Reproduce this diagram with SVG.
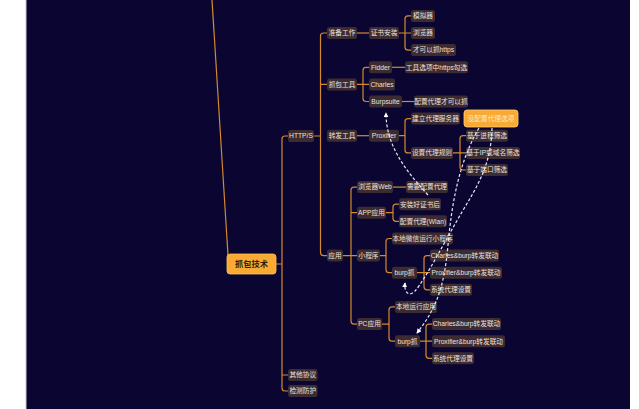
<svg xmlns="http://www.w3.org/2000/svg" width="639" height="409" viewBox="0 0 639 409">
<style>
.n rect{fill:#3c2b31;}
.n text{fill:#ece2de;font-family:"Liberation Sans","Noto Sans CJK SC",sans-serif;font-size:6.7px;text-anchor:middle;}
.c path{fill:none;stroke:#d48a2c;stroke-width:1.2;}
.d path{fill:none;stroke:#e6e6f2;stroke-width:1.2;stroke-dasharray:3 2;}
</style>
<defs>
<marker id="ah" viewBox="0 0 6 6" refX="5" refY="3" markerWidth="5" markerHeight="5" orient="auto" markerUnits="userSpaceOnUse">
<path d="M0,0 L6,3 L0,6 Z" fill="#ffffff"/>
</marker>
</defs>
<rect x="0" y="0" width="639" height="409" fill="#ffffff"/>
<rect x="26" y="0" width="604" height="409" fill="#0a0631"/>
<line x1="26" y1="0" x2="26" y2="409" stroke="#c9c9d6" stroke-width="1"/>

<g id="connectors" class="c">
<path d="M212,0 C220,130 226,220 228,255"/>
<path d="M276,264 H282 M288,136 H285 Q282,136 282,139 V388 Q282,391 285,391 H288 M282,375 H288"/>
<path d="M314,136 H320.5 M327,33 H323.5 Q320.5,33 320.5,36 V252.6 Q320.5,255.6 323.5,255.6 H327 M320.5,84.4 H327"/>
<path d="M357,33 H369"/>
<path d="M399,33 H411 M411,15.9 H408 Q405,15.9 405,18.9 V47.1 Q405,50.1 408,50.1 H411"/>
<path d="M357,84.4 H369 M369,67.3 H366 Q363,67.3 363,70.3 V98.5 Q363,101.5 366,101.5 H369"/>
<path d="M392,67.3 H405"/>
<path d="M402,101.5 H414"/>
<path d="M357,135.7 H369"/>
<path d="M399,135.7 H405 M411,118.6 H408 Q405,118.6 405,121.6 V149.9 Q405,152.9 408,152.9 H411"/>
<path d="M453,152.9 H466 M466,135.7 H463 Q460,135.7 460,138.7 V167 Q460,170 463,170 H466"/>
<path d="M343,255.6 H357 M357,187.1 H354 Q351,187.1 351,190.1 V321.1 Q351,324.1 354,324.1 H357 M351,212.7 H357"/>
<path d="M393,187.1 H406"/>
<path d="M386,212.7 H393 M399,204.2 H396 Q393,204.2 393,207.2 V218.3 Q393,221.3 396,221.3 H399"/>
<path d="M380,255.6 H386 M392,238.5 H389 Q386,238.5 386,241.5 V269.7 Q386,272.7 389,272.7 H392"/>
<path d="M417,272.7 H430 M430,255.6 H427 Q424,255.6 424,258.6 V286.8 Q424,289.8 427,289.8 H430"/>
<path d="M382,324.1 H389 M395,306.9 H392 Q389,306.9 389,309.9 V338.2 Q389,341.2 392,341.2 H395"/>
<path d="M420,341.2 H432 M432,324.1 H429 Q426,324.1 426,327.1 V355.3 Q426,358.3 429,358.3 H432"/>
</g>

<g id="root"><rect x="227" y="254" width="49" height="20" rx="3" fill="#f9aa33" stroke="#ffc25a" stroke-width="0.8"/><text x="251.5" y="267" font-family="'Liberation Sans','Noto Sans CJK SC',sans-serif" font-size="8.2" font-weight="bold" fill="#2b1d0e" text-anchor="middle">抓包技术</text></g>

<g id="n-https" class="n"><rect x="288" y="130" width="26" height="12" rx="2.5"/><text x="301" y="138.3">HTTP/S</text></g>
<g id="n-other" class="n"><rect x="288" y="369" width="29.5" height="12" rx="2.5"/><text x="302.75" y="377.3">其他协议</text></g>
<g id="n-detect" class="n"><rect x="288" y="385" width="29.5" height="12" rx="2.5"/><text x="302.75" y="393.3">检测防护</text></g>

<g id="n-prep" class="n"><rect x="327" y="27" width="30" height="12" rx="2.5"/><text x="342" y="35.3">准备工作</text></g>
<g id="n-cert" class="n"><rect x="369" y="27" width="30" height="12" rx="2.5"/><text x="384" y="35.3">证书安装</text></g>
<g id="n-sim" class="n"><rect x="411" y="9.9" width="24" height="12" rx="2.5"/><text x="423" y="18.2">模拟器</text></g>
<g id="n-browser" class="n"><rect x="411" y="27" width="24" height="12" rx="2.5"/><text x="423" y="35.3">浏览器</text></g>
<g id="n-canhttps" class="n"><rect x="411" y="44.1" width="45" height="12" rx="2.5"/><text x="433.5" y="52.4">才可以抓https</text></g>

<g id="n-tools" class="n"><rect x="327" y="78.4" width="30" height="12" rx="2.5"/><text x="342" y="86.7">抓包工具</text></g>
<g id="n-fidder" class="n"><rect x="369" y="61.3" width="23" height="12" rx="2.5"/><text x="380.5" y="69.6">Fidder</text></g>
<g id="n-charles" class="n"><rect x="369" y="78.4" width="26" height="12" rx="2.5"/><text x="382" y="86.7">Charles</text></g>
<g id="n-burpsuite" class="n"><rect x="369" y="95.5" width="33" height="12" rx="2.5"/><text x="385.5" y="103.8">Burpsuite</text></g>
<g id="n-fidder-opt" class="n"><rect x="405" y="61.3" width="63" height="12" rx="2.5"/><text x="436.5" y="69.6">工具选项中https勾选</text></g>
<g id="n-burp-opt" class="n"><rect x="414" y="95.5" width="54" height="12" rx="2.5"/><text x="441" y="103.8">配置代理才可以抓</text></g>

<g id="n-fwd" class="n"><rect x="327" y="129.7" width="30" height="12" rx="2.5"/><text x="342" y="138">转发工具</text></g>
<g id="n-proxifier" class="n"><rect x="369" y="129.7" width="30" height="12" rx="2.5"/><text x="384" y="138">Proxifier</text></g>
<g id="n-proxyserver" class="n"><rect x="411" y="112.6" width="49" height="12" rx="2.5"/><text x="435.5" y="120.9">建立代理服务器</text></g>
<g id="n-rules" class="n"><rect x="411" y="146.9" width="42" height="12" rx="2.5"/><text x="432" y="155.2">设置代理规则</text></g>
<g id="n-noproxy"><rect x="464" y="110" width="54" height="17" rx="3" fill="#f9aa33" stroke="#ffcf78" stroke-width="0.8"/><text x="491" y="121" font-family="'Liberation Sans','Noto Sans CJK SC',sans-serif" font-size="6.7" fill="#fde8c8" text-anchor="middle">没配置代理选项</text></g>
<g id="n-byproc" class="n"><rect x="466" y="129.7" width="42" height="12" rx="2.5"/><text x="487" y="138">基于进程筛选</text></g>
<g id="n-byip" class="n"><rect x="466" y="146.9" width="54" height="12" rx="2.5"/><text x="493" y="155.2">基于IP或域名筛选</text></g>
<g id="n-byport" class="n"><rect x="466" y="164" width="42" height="12" rx="2.5"/><text x="487" y="172.3">基于端口筛选</text></g>

<g id="n-app" class="n"><rect x="327" y="249.6" width="16" height="12" rx="2.5"/><text x="335" y="257.9">应用</text></g>
<g id="n-web" class="n"><rect x="357" y="181.1" width="36" height="12" rx="2.5"/><text x="375" y="189.4">浏览器Web</text></g>
<g id="n-needproxy" class="n"><rect x="406" y="181.1" width="42" height="12" rx="2.5"/><text x="427" y="189.4">需要配置代理</text></g>
<g id="n-appapp" class="n"><rect x="357" y="206.7" width="29" height="12" rx="2.5"/><text x="371.5" y="215">APP应用</text></g>
<g id="n-installcert" class="n"><rect x="399" y="198.2" width="42" height="12" rx="2.5"/><text x="420" y="206.5">安装好证书后</text></g>
<g id="n-wlan" class="n"><rect x="399" y="215.3" width="48" height="12" rx="2.5"/><text x="423" y="223.6">配置代理(Wlan)</text></g>
<g id="n-mini" class="n"><rect x="357" y="249.6" width="23" height="12" rx="2.5"/><text x="368.5" y="257.9">小程序</text></g>
<g id="n-localwx" class="n"><rect x="392" y="232.5" width="61" height="12" rx="2.5"/><text x="422.5" y="240.8">本地微信运行小程序</text></g>
<g id="n-miniburp" class="n"><rect x="392" y="266.7" width="25" height="12" rx="2.5"/><text x="404.5" y="275">burp抓</text></g>
<g id="n-mini-cb" class="n"><rect x="430" y="249.6" width="69" height="12" rx="2.5"/><text x="464.5" y="257.9">Charles&amp;burp转发联动</text></g>
<g id="n-mini-pb" class="n"><rect x="430" y="266.7" width="72" height="12" rx="2.5"/><text x="466" y="275">Proxifier&amp;burp转发联动</text></g>
<g id="n-mini-sys" class="n"><rect x="430" y="283.8" width="42" height="12" rx="2.5"/><text x="451" y="292.1">系统代理设置</text></g>
<g id="n-pc" class="n"><rect x="357" y="318.1" width="25" height="12" rx="2.5"/><text x="369.5" y="326.4">PC应用</text></g>
<g id="n-localapp" class="n"><rect x="395" y="300.9" width="42" height="12" rx="2.5"/><text x="416" y="309.2">本地运行应用</text></g>
<g id="n-pcburp" class="n"><rect x="395" y="335.2" width="25" height="12" rx="2.5"/><text x="407.5" y="343.5">burp抓</text></g>
<g id="n-pc-cb" class="n"><rect x="432" y="318.1" width="69" height="12" rx="2.5"/><text x="466.5" y="326.4">Charles&amp;burp转发联动</text></g>
<g id="n-pc-pb" class="n"><rect x="432" y="335.2" width="73" height="12" rx="2.5"/><text x="468.5" y="343.5">Proxifier&amp;burp转发联动</text></g>
<g id="n-pc-sys" class="n"><rect x="432" y="352.3" width="42" height="12" rx="2.5"/><text x="453" y="360.6">系统代理设置</text></g>

<g id="relations" class="d">
<path d="M428,195 C405,170 386,145 386,113" marker-end="url(#ah)"/>
<path d="M492,128 C491,165 478,185 462,212 S425,280 415,291 C409,297 404,293 405,283" marker-end="url(#ah)"/>
<path d="M479,128 C460,160 452,200 448,245 S435,310 417,333" marker-end="url(#ah)"/>
</g>
</svg>
